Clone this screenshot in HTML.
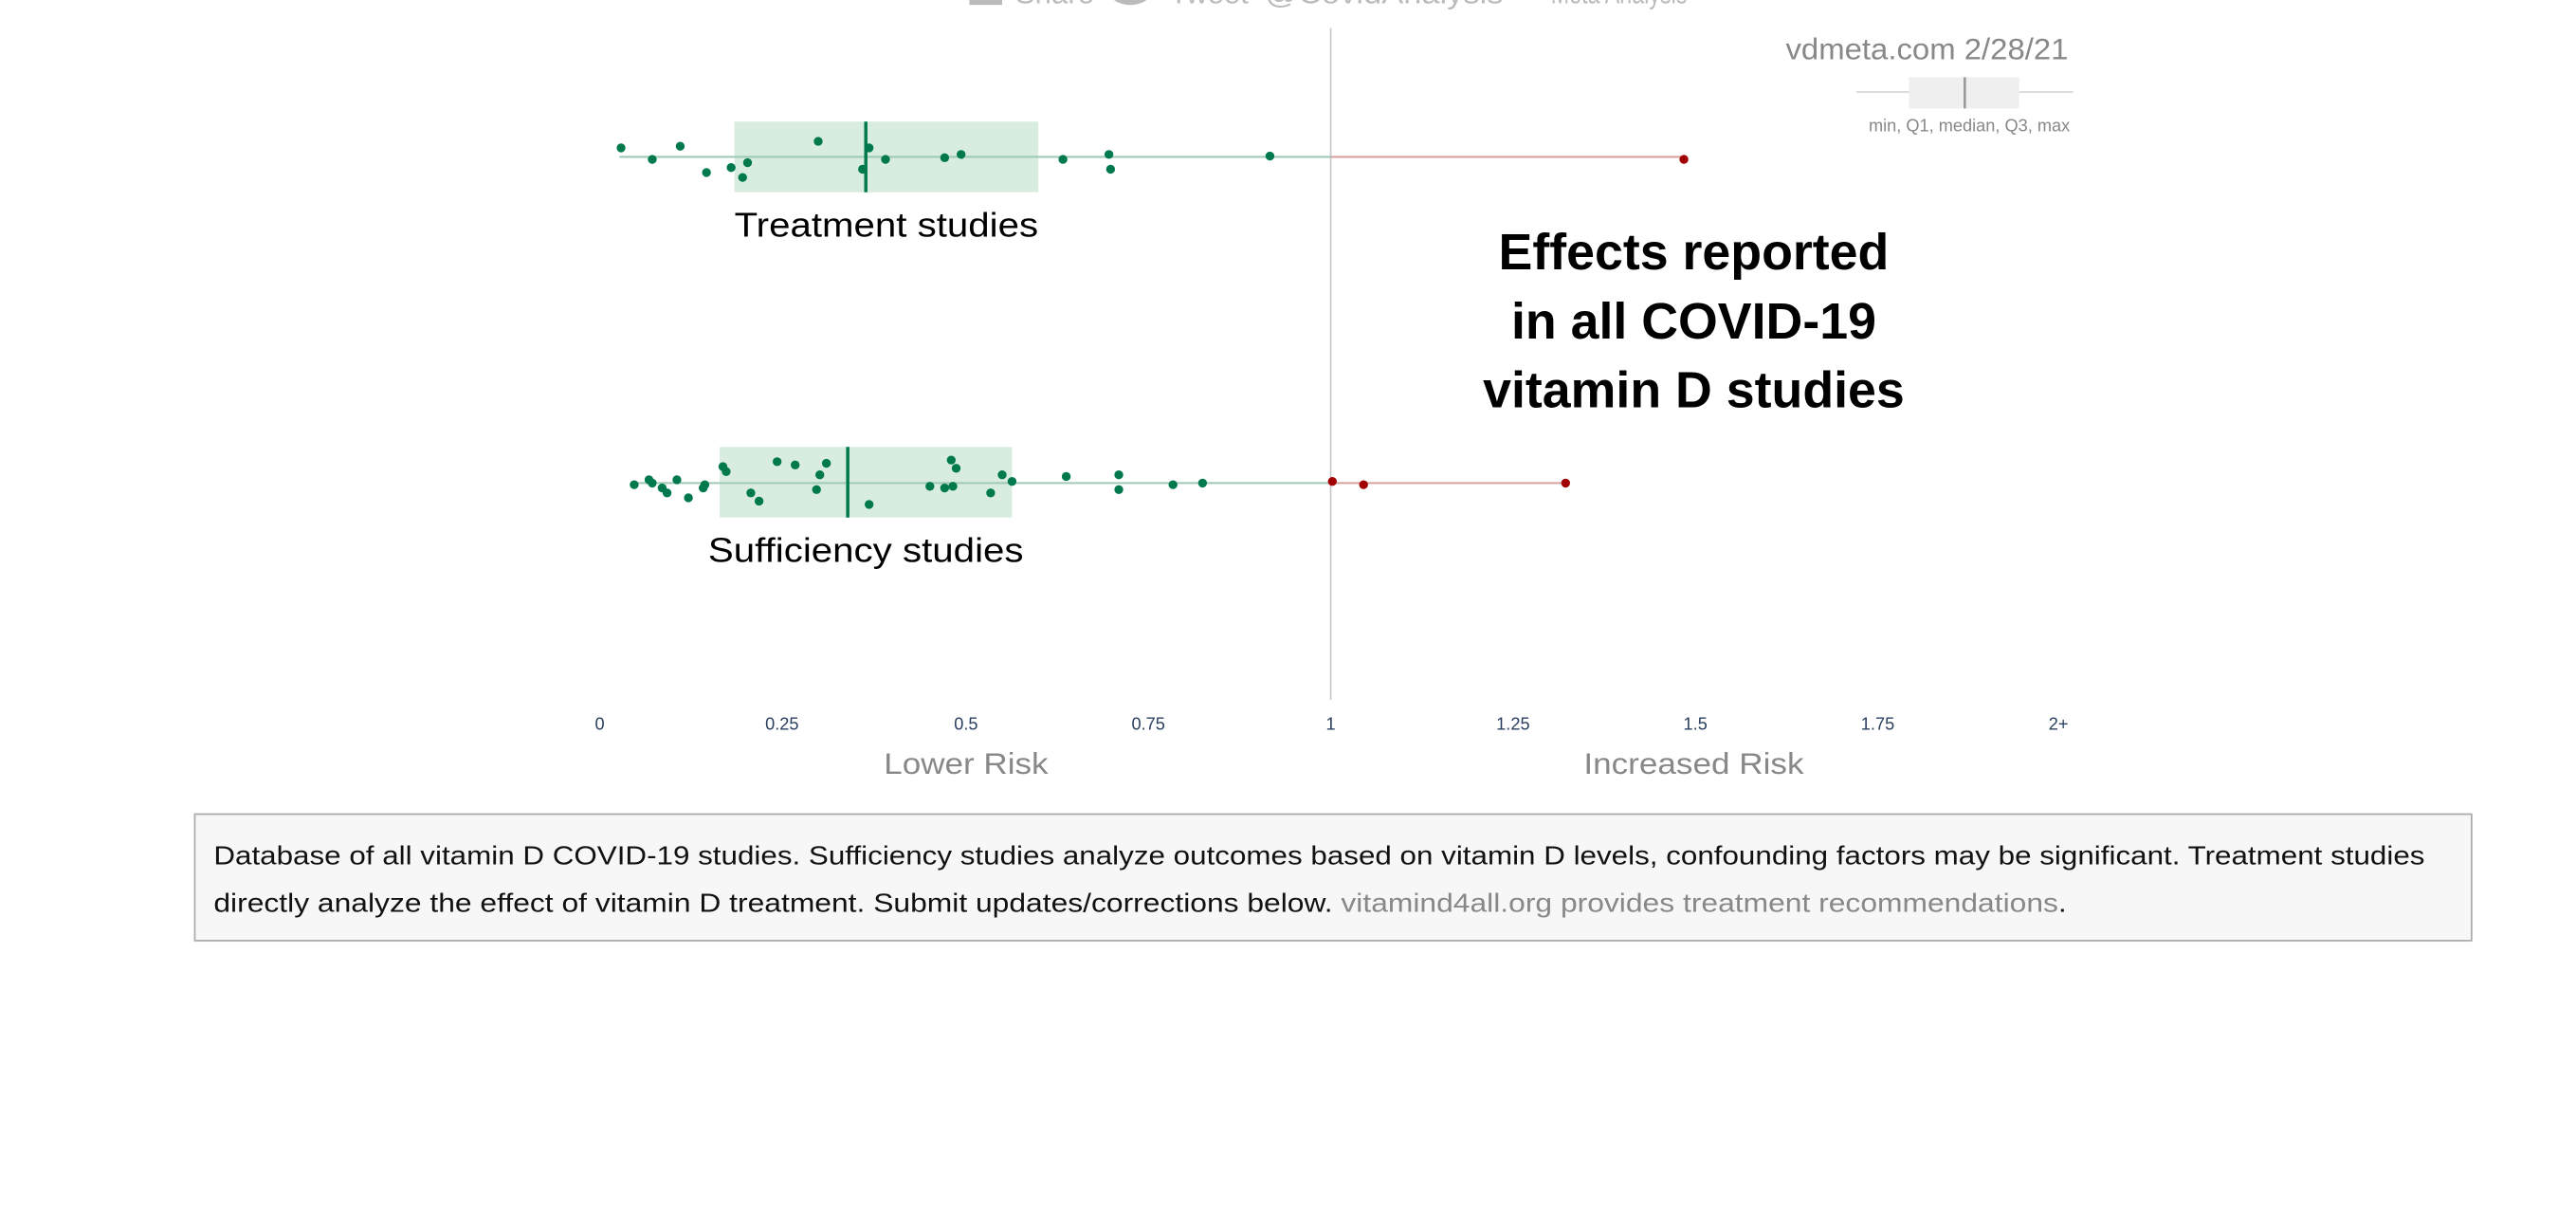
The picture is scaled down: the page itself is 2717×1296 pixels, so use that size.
<!DOCTYPE html>
<html><head><meta charset="utf-8"><style>
html,body{margin:0;padding:0;background:#fff;overflow:hidden}
svg{display:block}
text{font-family:"Liberation Sans",sans-serif}
</style></head><body>
<svg width="2717" height="1296" viewBox="0 0 1568 748" xmlns="http://www.w3.org/2000/svg">
<g fill="#bbb" font-size="18">
<rect x="590" y="-8" width="20" height="11"/>
<text x="618" y="2">Share</text>
<ellipse cx="688" cy="-4" rx="12" ry="7"/>
<text x="712" y="2">Tweet</text>
<text x="770" y="2" textLength="145" lengthAdjust="spacingAndGlyphs">@CovidAnalysis</text>
<text x="944" y="2" textLength="83" lengthAdjust="spacingAndGlyphs">Meta Analysis</text>
</g>
<line x1="810" y1="17" x2="810" y2="426" stroke="#c8c8c8" stroke-width="1"/>
<text x="1259" y="36" font-size="18" fill="#888" text-anchor="end" textLength="172" lengthAdjust="spacingAndGlyphs">vdmeta.com 2/28/21</text>
<line x1="1130" y1="56" x2="1262" y2="56" stroke="#ddd" stroke-width="1.2"/>
<rect x="1162" y="47" width="67" height="19" fill="#efefef"/>
<line x1="1196" y1="47" x2="1196" y2="66" stroke="#999" stroke-width="1.5"/>
<text x="1260" y="80" font-size="10.5" fill="#888" text-anchor="end">min, Q1, median, Q3, max</text>

<rect x="447" y="74" width="185" height="43" fill="#d9ece0"/>
<line x1="377" y1="95.5" x2="810" y2="95.5" stroke="#9fcab5" stroke-width="1.2"/>
<line x1="810" y1="95.5" x2="1025" y2="95.5" stroke="#d9a0a0" stroke-width="1.2"/>
<line x1="527" y1="74" x2="527" y2="117" stroke="#007a4d" stroke-width="2"/>
<g fill="#007a4d">
<circle cx="378" cy="90" r="2.7"/><circle cx="397" cy="97" r="2.7"/><circle cx="414" cy="89" r="2.7"/>
<circle cx="430" cy="105" r="2.7"/><circle cx="445" cy="102" r="2.7"/><circle cx="452" cy="108" r="2.7"/>
<circle cx="455" cy="99" r="2.7"/><circle cx="498" cy="86" r="2.7"/><circle cx="525" cy="103" r="2.7"/>
<circle cx="529" cy="90" r="2.7"/><circle cx="539" cy="97" r="2.7"/><circle cx="575" cy="96" r="2.7"/>
<circle cx="585" cy="94" r="2.7"/><circle cx="647" cy="97" r="2.7"/><circle cx="675" cy="94" r="2.7"/>
<circle cx="676" cy="103" r="2.7"/><circle cx="773" cy="95" r="2.7"/>
</g>
<circle cx="1025" cy="97" r="2.7" fill="#a00000"/>
<text x="447" y="144" font-size="21" fill="#000" textLength="185" lengthAdjust="spacingAndGlyphs">Treatment studies</text>

<g font-size="31" font-weight="bold" fill="#000" text-anchor="middle">
<text x="1031" y="164">Effects reported</text>
<text x="1031" y="206">in all COVID-19</text>
<text x="1031" y="248">vitamin D studies</text>
</g>

<rect x="438" y="272" width="178" height="43" fill="#d9ece0"/>
<line x1="385" y1="294" x2="810" y2="294" stroke="#9fcab5" stroke-width="1.2"/>
<line x1="810" y1="294" x2="953" y2="294" stroke="#d9a0a0" stroke-width="1.2"/>
<line x1="516" y1="272" x2="516" y2="315" stroke="#007a4d" stroke-width="2"/>
<g fill="#007a4d">
<circle cx="386" cy="295" r="2.7"/><circle cx="395" cy="292" r="2.7"/><circle cx="397" cy="294" r="2.7"/>
<circle cx="403" cy="297" r="2.7"/><circle cx="406" cy="300" r="2.7"/><circle cx="412" cy="292" r="2.7"/>
<circle cx="419" cy="303" r="2.7"/><circle cx="428" cy="297" r="2.7"/><circle cx="429" cy="295" r="2.7"/>
<circle cx="440" cy="284" r="2.7"/><circle cx="442" cy="287" r="2.7"/><circle cx="457" cy="300" r="2.7"/>
<circle cx="462" cy="305" r="2.7"/><circle cx="473" cy="281" r="2.7"/><circle cx="484" cy="283" r="2.7"/>
<circle cx="497" cy="298" r="2.7"/><circle cx="499" cy="289" r="2.7"/><circle cx="503" cy="282" r="2.7"/>
<circle cx="529" cy="307" r="2.7"/><circle cx="566" cy="296" r="2.7"/><circle cx="575" cy="297" r="2.7"/>
<circle cx="579" cy="280" r="2.7"/><circle cx="580" cy="296" r="2.7"/><circle cx="582" cy="285" r="2.7"/>
<circle cx="603" cy="300" r="2.7"/><circle cx="610" cy="289" r="2.7"/><circle cx="616" cy="293" r="2.7"/>
<circle cx="649" cy="290" r="2.7"/><circle cx="681" cy="289" r="2.7"/><circle cx="681" cy="298" r="2.7"/>
<circle cx="714" cy="295" r="2.7"/><circle cx="732" cy="294" r="2.7"/>
</g>
<g fill="#a00000"><circle cx="811" cy="293" r="2.7"/><circle cx="830" cy="295" r="2.7"/><circle cx="953" cy="294" r="2.7"/></g>
<text x="431" y="342" font-size="21" fill="#000" textLength="192" lengthAdjust="spacingAndGlyphs">Sufficiency studies</text>

<g font-size="10.5" fill="#2a3f5f" text-anchor="middle">
<text x="365" y="444">0</text><text x="476" y="444">0.25</text><text x="588" y="444">0.5</text>
<text x="699" y="444">0.75</text><text x="810" y="444">1</text><text x="921" y="444">1.25</text>
<text x="1032" y="444">1.5</text><text x="1143" y="444">1.75</text><text x="1253" y="444">2+</text>
</g>
<text x="538" y="471" font-size="18" fill="#888" textLength="100" lengthAdjust="spacingAndGlyphs">Lower Risk</text>
<text x="964" y="471" font-size="18" fill="#888" textLength="134" lengthAdjust="spacingAndGlyphs">Increased Risk</text>

<rect x="118.5" y="495.5" width="1386" height="77" fill="#f7f7f7" stroke="#aaa" stroke-width="1"/>
<text x="130" y="526" font-size="16" fill="#111" textLength="1346" lengthAdjust="spacingAndGlyphs">Database of all vitamin D COVID-19 studies. Sufficiency studies analyze outcomes based on vitamin D levels, confounding factors may be significant. Treatment studies</text>
<text x="130" y="555" font-size="16" fill="#111" textLength="1128" lengthAdjust="spacingAndGlyphs">directly analyze the effect of vitamin D treatment. Submit updates/corrections below. <tspan fill="#888">vitamind4all.org provides treatment recommendations</tspan>.</text>
</svg>
</body></html>
